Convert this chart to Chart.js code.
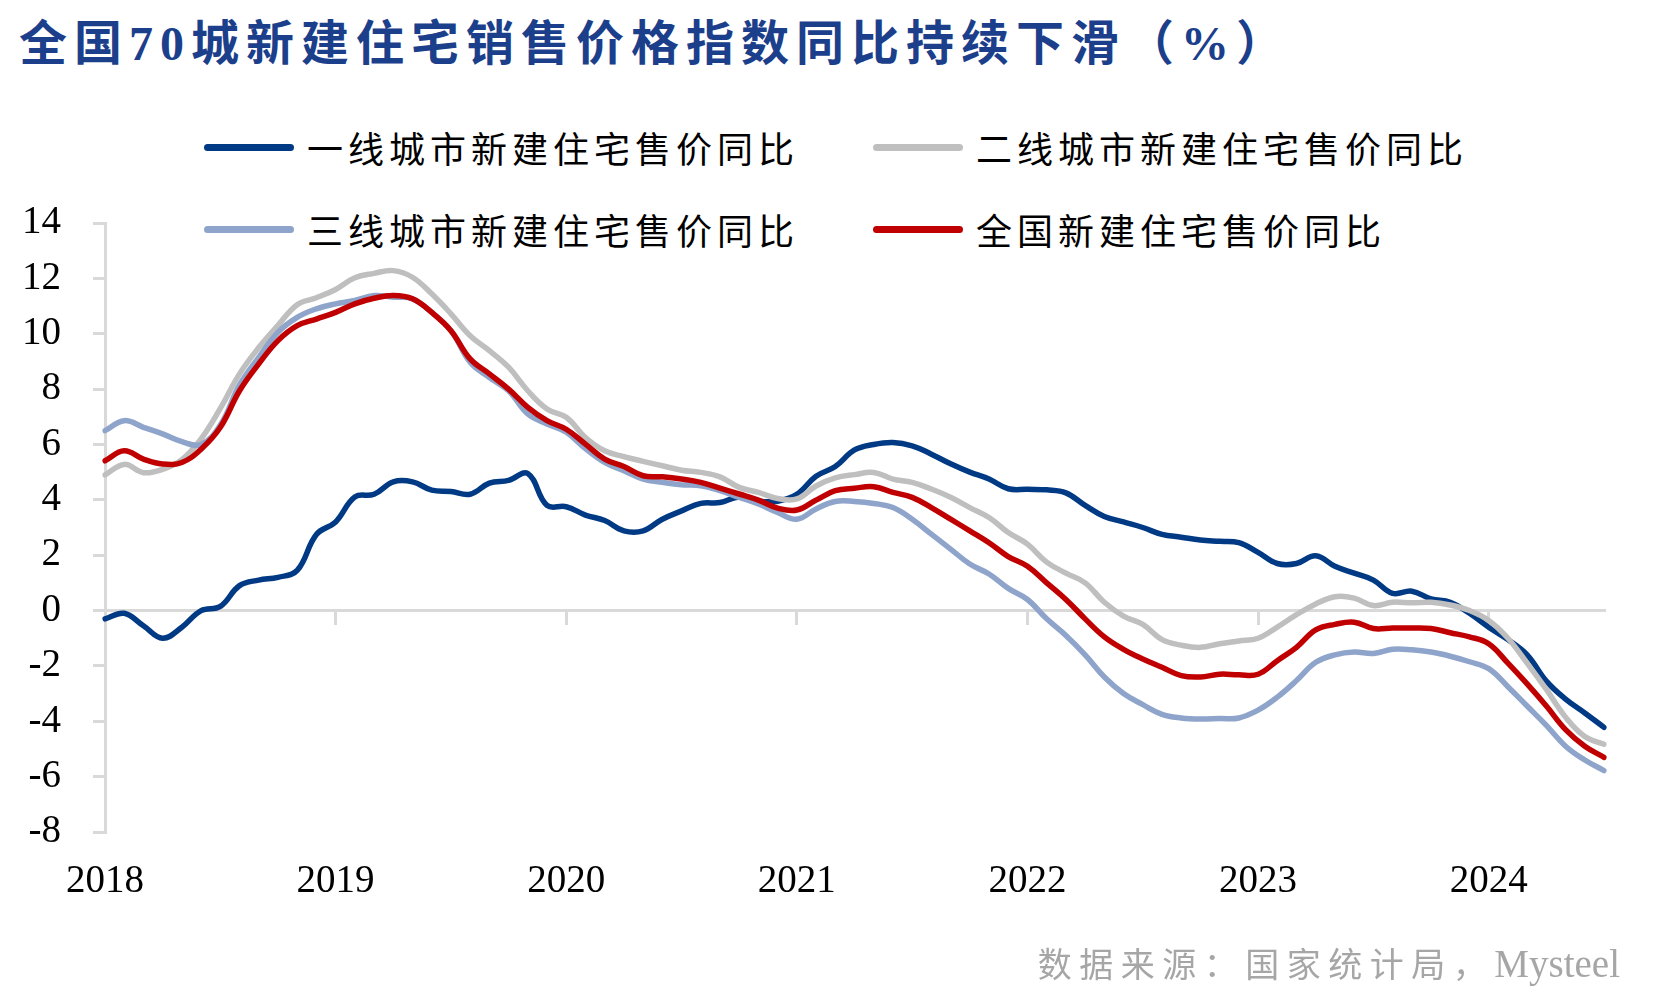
<!DOCTYPE html>
<html>
<head>
<meta charset="utf-8">
<script src="https://cdn.jsdelivr.net/npm/chart.js@4.4.1/dist/chart.umd.min.js"></script>
<style>
  html, body { margin: 0; padding: 0; background: #fff; }
  body { width: 1654px; height: 1007px; position: relative; overflow: hidden; }
  #c { position: absolute; left: 0; top: 0; }
  #title { position: absolute; left: 19px; top: 13px; font-family: "Liberation Serif", "Noto Sans CJK SC", serif; font-weight: bold; font-size: 48px; letter-spacing: 7px; color: #1C3F8C; white-space: nowrap; line-height: 62px; }
  .leg { position: absolute; display: flex; align-items: center; font-family: "Noto Sans CJK SC", sans-serif; font-size: 36px; letter-spacing: 5px; color: #000; white-space: nowrap; height: 50px; }
  .leg .sw { width: 90px; height: 7px; border-radius: 4px; margin-right: 13px; }
  #src { position: absolute; right: 34px; top: 938px; color: #A6A6A6; white-space: nowrap; line-height: 50px; }
  #src .cjk { font-family: "Noto Sans CJK SC", sans-serif; font-size: 34px; letter-spacing: 7.5px; }
  #src .lat { font-family: "Liberation Serif", serif; font-size: 39px; }
</style>
</head>
<body>
<div id="title">全国70城新建住宅销售价格指数同比持续下滑（%）</div>
<div id="legend"></div>
<canvas id="c" width="1654" height="1007"></canvas>
<div id="src"><span class="cjk">数据来源：国家统计局，</span><span class="lat">Mysteel</span></div>
<script>
// ---- data (monthly, 2018-01 .. 2024-07) ----
const startYear = 2018;
const monthCount = 79;
const months = [];
for (let i = 0; i < monthCount; i++) {
  const y = startYear + Math.floor(i / 12);
  const m = (i % 12) + 1;
  months.push(y + '-' + (m < 10 ? '0' + m : '' + m));
}
const seriesNames = ['一线城市新建住宅售价同比', '二线城市新建住宅售价同比', '三线城市新建住宅售价同比', '全国新建住宅售价同比'];
const tier1 = [-0.3,-0.1,-0.55,-1.0,-0.6,0.0,0.15,0.9,1.1,1.2,1.45,2.75,
  3.2,4.1,4.2,4.65,4.65,4.35,4.3,4.2,4.6,4.7,4.95,3.8,
  3.75,3.45,3.25,2.88,2.88,3.3,3.6,3.87,3.9,4.1,3.95,3.95,
  4.2,4.85,5.2,5.8,6.0,6.07,5.95,5.65,5.3,5.0,4.75,4.4,
  4.38,4.36,4.25,3.8,3.4,3.2,3.0,2.75,2.65,2.55,2.5,2.45,
  2.1,1.7,1.7,1.98,1.6,1.35,1.1,0.62,0.7,0.42,0.3,-0.1,
  -0.6,-1.05,-1.6,-2.55,-3.2,-3.7,-4.22];
const tier2 = [4.9,5.28,4.98,5.1,5.45,6.2,7.3,8.55,9.5,10.3,11.05,11.3,
  11.6,12.02,12.18,12.28,12.04,11.44,10.72,9.93,9.39,8.79,7.94,7.28,
  6.98,6.25,5.77,5.56,5.39,5.23,5.07,4.99,4.83,4.45,4.27,4.05,
  4.03,4.5,4.79,4.91,4.99,4.75,4.63,4.39,4.09,3.72,3.36,2.82,
  2.4,1.75,1.35,1.0,0.3,-0.2,-0.5,-1.05,-1.25,-1.33,-1.2,-1.1,
  -1.0,-0.6,-0.15,0.24,0.5,0.45,0.18,0.3,0.28,0.3,0.2,0.0,
  -0.36,-1.0,-1.9,-2.85,-3.85,-4.55,-4.83];
const tier3 = [6.5,6.86,6.62,6.38,6.1,6.0,6.7,8.15,9.15,10.05,10.59,10.9,
  11.08,11.2,11.38,11.32,11.26,10.77,10.11,8.97,8.42,7.94,7.1,6.74,
  6.44,5.85,5.35,5.05,4.75,4.63,4.54,4.51,4.33,4.09,3.85,3.54,
  3.3,3.67,3.94,3.94,3.87,3.72,3.3,2.76,2.22,1.68,1.32,0.8,
  0.4,-0.3,-0.9,-1.6,-2.4,-3.0,-3.4,-3.75,-3.88,-3.92,-3.9,-3.88,
  -3.6,-3.13,-2.53,-1.87,-1.6,-1.5,-1.55,-1.4,-1.42,-1.5,-1.65,-1.85,
  -2.1,-2.75,-3.45,-4.15,-4.9,-5.4,-5.78];
const national = [5.41,5.77,5.47,5.29,5.35,5.83,6.62,7.94,8.91,9.75,10.29,10.53,
  10.77,11.08,11.28,11.38,11.26,10.77,10.11,9.09,8.55,8.0,7.34,6.86,
  6.55,6.01,5.47,5.2,4.87,4.83,4.75,4.63,4.42,4.21,3.99,3.7,
  3.63,3.99,4.33,4.42,4.47,4.27,4.09,3.72,3.3,2.88,2.45,1.95,
  1.6,1.0,0.4,-0.3,-0.95,-1.4,-1.75,-2.05,-2.35,-2.4,-2.3,-2.32,
  -2.3,-1.81,-1.33,-0.7,-0.5,-0.42,-0.65,-0.63,-0.63,-0.65,-0.8,-0.95,
  -1.2,-1.9,-2.65,-3.45,-4.3,-4.9,-5.3];
const yMin = -8, yMax = 14, yStep = 2;

// ---- styles ----
const colors = ['#003A84', '#BFBFBF', '#8EA4CB', '#C00000'];
const drawOrder = [3, 2, 1, 0];
const seriesValues = [tier1, tier2, tier3, national];
const axisGrey = '#D9D9D9';
const tickFont = { family: '"Liberation Serif", "Times New Roman", serif', size: 39 };

// HTML legend (2 x 2)
const legendPos = [[204, 122], [873, 122], [204, 204], [873, 204]];
const legendEl = document.getElementById('legend');
seriesNames.forEach((name, i) => {
  const d = document.createElement('div');
  d.className = 'leg';
  d.style.left = legendPos[i][0] + 'px';
  d.style.top = legendPos[i][1] + 'px';
  d.innerHTML = '<span class="sw" style="background:' + colors[i] + '"></span><span>' + name + '</span>';
  legendEl.appendChild(d);
});

const isYearStart = (lbl) => typeof lbl === 'string' && lbl.endsWith('-01');

new Chart(document.getElementById('c'), {
  type: 'line',
  data: {
    labels: months,
    datasets: seriesValues.map((vals, i) => ({
      label: seriesNames[i],
      data: vals,
      borderColor: colors[i],
      backgroundColor: colors[i],
      borderWidth: 5.5,
      pointRadius: 0,
      tension: 0.4,
      borderCapStyle: 'round',
      borderJoinStyle: 'round',
      fill: false,
      order: drawOrder[i],
      xAxisID: 'x',
      yAxisID: 'y'
    }))
  },
  options: {
    responsive: false,
    animation: false,
    devicePixelRatio: 1,
    layout: { padding: { top: 223, right: 50, bottom: 0, left: 0 } },
    plugins: { legend: { display: false }, tooltip: { enabled: false }, title: { display: false } },
    scales: {
      y: {
        min: yMin, max: yMax,
        ticks: { stepSize: yStep, font: tickFont, color: '#000', padding: 32 },
        grid: { drawOnChartArea: false, drawTicks: true, tickLength: 12, color: axisGrey, lineWidth: 3 },
        border: { display: true, color: axisGrey, width: 3 },
        afterFit: (s) => { s.width = 105; }
      },
      x: {
        type: 'category',
        position: 'bottom',
        grid: { display: false, drawTicks: false },
        border: { display: false },
        ticks: {
          autoSkip: false, maxRotation: 0, minRotation: 0,
          font: tickFont, color: '#000', padding: 26,
          callback: function (v) { const l = this.getLabelForValue(v); return isYearStart(l) ? l.slice(0, 4) : ''; }
        },
        afterFit: (s) => { s.height = 175; }
      },
      x2: {
        type: 'category',
        position: { y: 0 },
        ticks: { display: false, autoSkip: false },
        grid: {
          drawOnChartArea: false, drawTicks: true, tickLength: 13, lineWidth: 3,
          color: 'rgba(0,0,0,0)',
          tickColor: (ctx) => (ctx.tick && isYearStart(months[ctx.index]) && ctx.index > 0) ? axisGrey : 'rgba(0,0,0,0)'
        },
        border: { display: true, color: axisGrey, width: 3 }
      }
    }
  }
});
</script>
</body>
</html>
